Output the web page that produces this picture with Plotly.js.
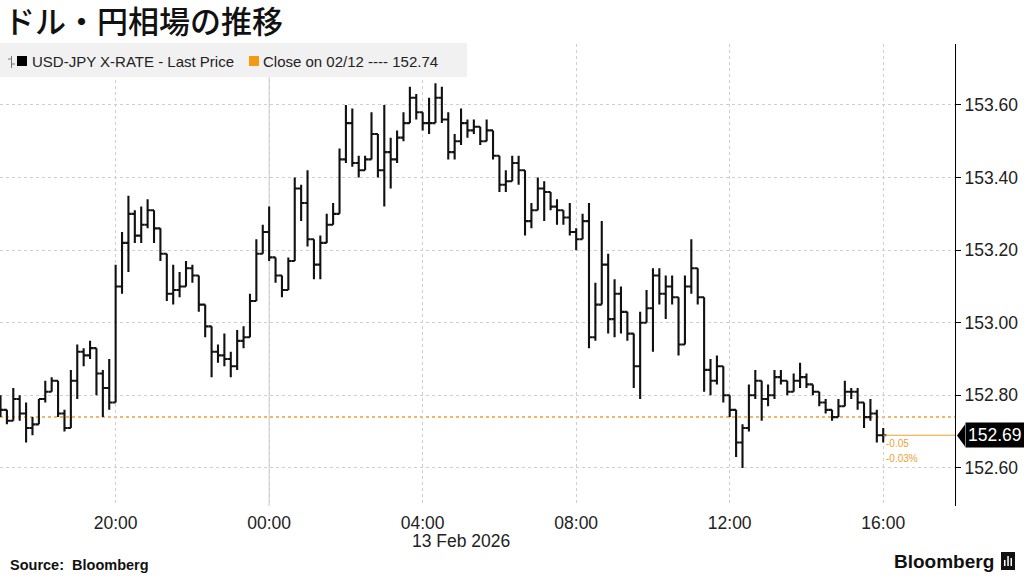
<!DOCTYPE html>
<html>
<head>
<meta charset="utf-8">
<script src="https://cdn.plot.ly/plotly-3.0.1.min.js"></script>
<style>
  html, body { margin: 0; padding: 0; background: #ffffff; }
  #chart { width: 1024px; height: 576px; }
</style>
</head>
<body>
<div id="chart"></div>
<script>
// ---- Data (USD-JPY, 10-minute bars from 12 Feb 17:00 to 13 Feb 16:00) ----
const startHour = 17;      // first bar 2026-02-12 17:00
const barMinutes = 10;

const openPx = [
152.78,152.76,152.73,152.79,152.75,152.71,152.72,152.79,152.81,152.84,
152.75,152.71,152.84,152.92,152.91,152.93,152.86,152.82,152.78,153.10,
153.22,153.30,153.24,153.27,153.31,153.26,153.19,153.08,153.09,153.10,
153.15,153.13,153.05,152.99,152.92,152.91,152.90,152.88,152.95,152.96,
153.06,153.19,153.25,153.18,153.13,153.09,153.17,153.37,153.33,153.23,
153.16,153.22,153.27,153.30,153.45,153.55,153.44,153.42,153.45,153.52,
153.42,153.47,153.45,153.51,153.55,153.62,153.58,153.55,153.55,153.62,
153.56,153.47,153.50,153.55,153.53,153.54,153.50,153.53,153.46,153.38,
153.39,153.44,153.42,153.28,153.31,153.37,153.36,153.32,153.31,153.29,
153.25,153.23,153.28,152.96,153.05,153.16,153.01,153.08,153.03,152.97,
152.88,153.00,153.04,153.13,153.08,153.10,153.07,152.94,153.10,153.15,
153.07,152.87,152.84,152.88,152.80,152.76,152.67,152.71,152.80,152.84,
152.79,152.80,152.85,152.84,152.81,152.84,152.85,152.83,152.81,152.78,
152.76,152.74,152.77,152.81,152.81,152.78,152.74,152.75,152.69
];
const highPx = [
152.80,152.76,152.82,152.80,152.78,152.74,152.79,152.84,152.85,152.84,
152.76,152.87,152.94,152.93,152.95,152.93,152.87,152.90,153.16,153.25,
153.35,153.31,153.32,153.34,153.31,153.26,153.19,153.16,153.14,153.17,
153.16,153.13,153.05,152.99,152.94,152.97,152.92,152.98,152.99,153.08,
153.23,153.27,153.32,153.18,153.13,153.18,153.40,153.38,153.42,153.23,
153.24,153.30,153.33,153.48,153.60,153.59,153.46,153.46,153.58,153.52,
153.60,153.51,153.53,153.58,153.65,153.63,153.58,153.62,153.66,153.65,
153.58,153.52,153.59,153.56,153.56,153.54,153.56,153.53,153.46,153.42,
153.46,153.46,153.42,153.33,153.40,153.39,153.36,153.34,153.31,153.33,
153.26,153.30,153.33,153.11,153.28,153.19,153.12,153.10,153.03,152.97,
153.03,153.09,153.15,153.15,153.13,153.13,153.07,153.13,153.23,153.15,
153.07,152.90,152.91,152.88,152.80,152.76,152.72,152.83,152.87,152.84,
152.83,152.87,152.87,152.84,152.86,152.89,152.86,152.83,152.81,152.79,
152.76,152.79,152.84,152.82,152.82,152.78,152.79,152.76,152.71
];
const lowPx = [
152.74,152.72,152.73,152.73,152.67,152.69,152.72,152.78,152.81,152.74,
152.70,152.71,152.79,152.88,152.90,152.80,152.74,152.76,152.78,153.08,
153.14,153.22,153.22,153.26,153.22,153.17,153.06,153.05,153.07,153.10,
153.11,153.03,152.96,152.85,152.89,152.88,152.85,152.87,152.93,152.96,
153.06,153.19,153.17,153.11,153.07,153.09,153.17,153.28,153.21,153.12,
153.12,153.22,153.27,153.30,153.44,153.43,153.40,153.42,153.45,153.40,
153.32,153.37,153.44,153.50,153.55,153.56,153.53,153.52,153.55,153.55,
153.45,153.45,153.49,153.51,153.52,153.49,153.50,153.45,153.36,153.36,
153.39,153.38,153.24,153.26,153.31,153.28,153.31,153.27,153.27,153.24,
153.20,153.23,152.93,152.95,153.05,152.97,152.96,152.97,152.95,152.82,
152.79,153.00,152.92,153.05,153.01,153.05,152.91,152.94,153.08,153.05,
152.81,152.80,152.83,152.78,152.74,152.63,152.60,152.70,152.79,152.73,
152.77,152.79,152.83,152.80,152.81,152.82,152.82,152.80,152.77,152.75,
152.73,152.74,152.77,152.79,152.76,152.71,152.73,152.67,152.67
];
const closePx = [
152.76,152.73,152.79,152.75,152.71,152.72,152.79,152.81,152.84,152.75,
152.71,152.84,152.92,152.91,152.93,152.86,152.82,152.78,153.10,153.22,
153.30,153.24,153.27,153.31,153.26,153.19,153.08,153.09,153.10,153.15,
153.13,153.05,152.99,152.92,152.91,152.90,152.88,152.95,152.96,153.06,
153.19,153.25,153.18,153.13,153.09,153.17,153.37,153.33,153.23,153.16,
153.22,153.27,153.30,153.45,153.55,153.44,153.42,153.45,153.52,153.42,
153.47,153.45,153.51,153.55,153.62,153.58,153.55,153.55,153.62,153.56,
153.47,153.50,153.55,153.53,153.54,153.50,153.53,153.46,153.38,153.39,
153.44,153.42,153.28,153.31,153.37,153.36,153.32,153.31,153.29,153.25,
153.23,153.28,152.96,153.05,153.16,153.01,153.08,153.03,152.97,152.88,
153.00,153.04,153.13,153.08,153.10,153.07,152.94,153.10,153.15,153.07,
152.87,152.84,152.88,152.80,152.76,152.67,152.71,152.80,152.84,152.79,
152.80,152.85,152.84,152.81,152.84,152.85,152.83,152.81,152.78,152.76,
152.74,152.77,152.81,152.81,152.78,152.74,152.75,152.69,152.69
];

const prevClose = 152.74;
const lastPrice = 152.69;
const changeText = "-0.05";
const changePctText = "-0.03%";

const xTickVals = ["2026-02-12 20:00","2026-02-13 00:00","2026-02-13 04:00","2026-02-13 08:00","2026-02-13 12:00","2026-02-13 16:00"];
const xTickText = ["20:00","00:00","04:00","08:00","12:00","16:00"];
const yTickVals = [152.6, 152.8, 153.0, 153.2, 153.4, 153.6];
const dateLabel = "13 Feb 2026";
const titleText = "ドル・円相場の推移";
const legendSeries = "USD-JPY X-RATE - Last Price";
const legendClose = "Close on 02/12 ---- 152.74";

// ---- build timestamps ----
function pad(n){ return (n < 10 ? "0" : "") + n; }
const times = closePx.map((_, k) => {
  const total = startHour * 60 + barMinutes * k;
  const day = 12 + Math.floor(total / 1440);
  const m = total % 1440;
  return "2026-02-" + day + " " + pad(Math.floor(m / 60)) + ":" + pad(m % 60);
});
const lastTime = times[times.length - 1];

// ---- pixel helpers for paper coords (plot area x:0..955, y:44..506) ----
const PL = 0, PR = 955, PT = 44, PB = 506;
const px = v => (v - PL) / (PR - PL);
const py = v => (PB - v) / (PB - PT);

const orange = "#f0a030";
const xRange = ["2026-02-12 16:59:13", "2026-02-13 17:52:13"];

const trace = {
  type: "ohlc",
  x: times, open: openPx, high: highPx, low: lowPx, close: closePx,
  increasing: { line: { color: "#111111", width: 2.1 } },
  decreasing: { line: { color: "#111111", width: 2.1 } },
  tickwidth: 0.5,
  hoverinfo: "skip",
  showlegend: false
};

const shapes = [
  { type: "line", xref: "x", yref: "paper", x0: "2026-02-13 00:00", x1: "2026-02-13 00:00", y0: 0, y1: 1,
    line: { color: "#c9c9c9", width: 1 }, layer: "below" },
  { type: "line", xref: "paper", yref: "y", x0: 0, x1: 1, y0: prevClose, y1: prevClose,
    line: { color: orange, width: 1.5, dash: "dot" }, layer: "below" },
  { type: "line", xref: "x", yref: "y", x0: lastTime, x1: xRange[1], y0: lastPrice, y1: lastPrice,
    line: { color: orange, width: 1.2 } },
  { type: "rect", xref: "paper", yref: "paper", x0: px(0), x1: px(467), y0: py(77), y1: py(43),
    fillcolor: "#f1f1f1", line: { width: 0 }, layer: "above" },
  { type: "line", xref: "paper", yref: "paper", x0: px(11.5), x1: px(11.5), y0: py(68), y1: py(56),
    line: { color: "#777", width: 1 } },
  { type: "line", xref: "paper", yref: "paper", x0: px(8), x1: px(11.5), y0: py(59), y1: py(59),
    line: { color: "#777", width: 1 } },
  { type: "line", xref: "paper", yref: "paper", x0: px(11.5), x1: px(15), y0: py(64), y1: py(64),
    line: { color: "#777", width: 1 } },
  { type: "rect", xref: "paper", yref: "paper", x0: px(17), x1: px(27), y0: py(66), y1: py(56),
    fillcolor: "#000", line: { width: 0 } },
  { type: "rect", xref: "paper", yref: "paper", x0: px(249), x1: px(259), y0: py(66), y1: py(56),
    fillcolor: "#f39a12", line: { width: 0 } },
  { type: "path", xref: "paper", yref: "paper",
    path: "M " + px(957) + " " + py(435.5) + " L " + px(965) + " " + py(424.5) + " L " + px(965) + " " + py(446.5) + " Z",
    fillcolor: "#000", line: { width: 0 } },
  { type: "rect", xref: "paper", yref: "paper", x0: px(1001), x1: px(1015), y0: py(570), y1: py(552),
    fillcolor: "#111", line: { width: 0 } },
  { type: "rect", xref: "paper", yref: "paper", x0: px(1004), x1: px(1005.5), y0: py(566), y1: py(560),
    fillcolor: "#fff", line: { width: 0 } },
  { type: "rect", xref: "paper", yref: "paper", x0: px(1007.3), x1: px(1008.8), y0: py(566), y1: py(556),
    fillcolor: "#fff", line: { width: 0 } },
  { type: "rect", xref: "paper", yref: "paper", x0: px(1010.5), x1: px(1012), y0: py(566), y1: py(558),
    fillcolor: "#fff", line: { width: 0 } }
];

const baseFont = "Liberation Sans, Arial, sans-serif";

const annotations = [
  // chart title
  { xref: "paper", yref: "paper", x: px(3), y: py(20), xanchor: "left", yanchor: "middle",
    text: titleText, showarrow: false, borderpad: 0,
    font: { family: "Noto Sans CJK JP, sans-serif", size: 31, color: "#111", weight: 500 } },
  { xref: "paper", yref: "paper", x: px(30), y: py(61), xanchor: "left", yanchor: "middle",
    text: legendSeries, showarrow: false, font: { family: baseFont, size: 15, color: "#222" } },
  { xref: "paper", yref: "paper", x: px(261), y: py(61), xanchor: "left", yanchor: "middle",
    text: legendClose, showarrow: false, font: { family: baseFont, size: 15, color: "#222" } },
  { xref: "paper", yref: "y", x: px(965), y: lastPrice, xanchor: "left", yanchor: "middle",
    text: lastPrice.toFixed(2), showarrow: false, bgcolor: "#000", borderpad: 2,
    font: { family: baseFont, size: 17.5, color: "#fff" } },
  { xref: "x", yref: "paper", x: lastTime, y: py(443), xanchor: "left", yanchor: "middle", xshift: 1,
    text: changeText, showarrow: false, font: { family: baseFont, size: 10, color: orange } },
  { xref: "x", yref: "paper", x: lastTime, y: py(458), xanchor: "left", yanchor: "middle", xshift: 1,
    text: changePctText, showarrow: false, font: { family: baseFont, size: 10, color: orange } },
  { xref: "paper", yref: "paper", x: px(461), y: py(541), xanchor: "center", yanchor: "middle",
    text: dateLabel, showarrow: false, font: { family: baseFont, size: 17.5, color: "#222" } },
  { xref: "paper", yref: "paper", x: px(8), y: py(565), xanchor: "left", yanchor: "middle",
    text: "<b>Source:  Bloomberg</b>", showarrow: false, font: { family: baseFont, size: 14.5, color: "#111" } },
  { xref: "paper", yref: "paper", x: px(996), y: py(561), xanchor: "right", yanchor: "middle",
    text: "<b>Bloomberg</b>", showarrow: false, font: { family: baseFont, size: 19, color: "#111" } }
];

const layout = {
  width: 1024, height: 576,
  margin: { l: PL, r: 1024 - PR, t: PT, b: 576 - PB, pad: 0 },
  paper_bgcolor: "#ffffff", plot_bgcolor: "#ffffff",
  showlegend: false,
  xaxis: {
    type: "date", range: xRange,
    tickvals: xTickVals, ticktext: xTickText,
    showgrid: true, gridcolor: "#cfcfcf", griddash: "dot", gridwidth: 1,
    showline: false, zeroline: false, ticks: "",
    tickfont: { family: baseFont, size: 17.5, color: "#222" },
    ticklabelstandoff: 4,
    rangeslider: { visible: false },
    fixedrange: true
  },
  yaxis: {
    side: "right", range: [152.495, 153.768],
    tickvals: yTickVals, tickformat: ".2f",
    showgrid: true, gridcolor: "#cfcfcf", griddash: "dot", gridwidth: 1,
    showline: true, linecolor: "#000", linewidth: 1,
    ticks: "outside", ticklen: 5, tickcolor: "#000", tickwidth: 1,
    zeroline: false,
    tickfont: { family: baseFont, size: 17.5, color: "#222" },
    fixedrange: true
  },
  shapes: shapes,
  annotations: annotations
};

Plotly.newPlot("chart", [trace], layout, { staticPlot: true, displayModeBar: false });
</script>
</body>
</html>
